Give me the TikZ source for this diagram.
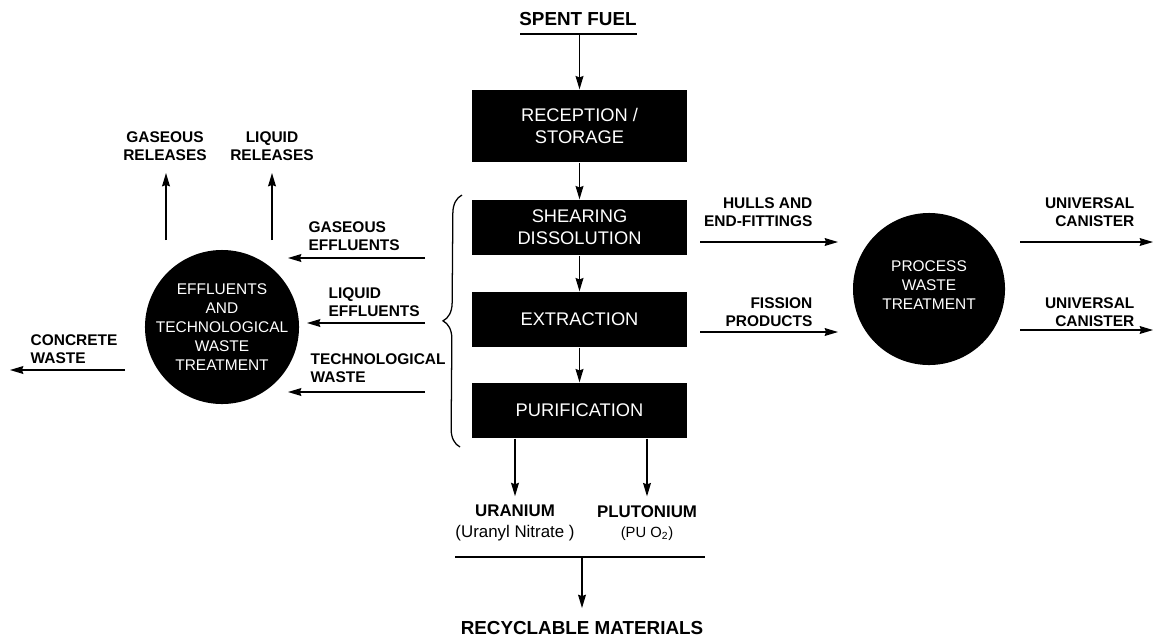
\documentclass[tikz,border=0pt]{standalone}
\usepackage{fontspec}
\setmainfont{Liberation Sans}
\usetikzlibrary{%
  arrows.meta,% wg. Stealth tips
  decorations.pathreplacing,% brace
  calc%
}

\begin{document}
\begin{tikzpicture}[
  x=0.025cm, y=-0.025cm,
  font=\fontsize{11}{13}\selectfont\bfseries,
  >={Stealth[length=9.5pt,width=5.6pt,inset=1pt]},
  line width=0.9pt,
  stage/.style={fill=black, text=white, font=\fontsize{13}{15.5}\selectfont,
    minimum width=5.375cm, minimum height=1.375cm, align=center, inner sep=0pt},
  plant/.style={circle, fill=black, inner sep=0pt},
  planttxt/.style={text=white, font=\fontsize{11}{13.5}\selectfont, align=center, inner sep=0pt},
  lbl/.style={align=center, inner sep=0pt},
  big/.style={font=\fontsize{13.4}{16}\selectfont\bfseries},
]
\useasboundingbox (0,0) rectangle (1154,639);

% main line
\node[lbl, big] (spent) at (578,19) {SPENT FUEL};
\coordinate (spentl) at (520,34);
\coordinate (spentr) at (637,34);
\draw (spentl) -- (spentr);

\node[stage, minimum height=1.8cm] (reception) at (579.5,126) {RECEPTION /\\STORAGE};
\node[stage] (shearing) at (579.5,227.5) {SHEARING\\DISSOLUTION};
\node[stage] (extraction) at (579.5,319.5) {EXTRACTION};
\node[stage] (purification) at (579.5,410.5) {PURIFICATION};

\draw[->] (spentl -| reception) -- (reception);
\draw[->] (reception) -- (shearing);
\draw[->] (shearing) -- (extraction);
\draw[->] (extraction) -- (purification);

% brace
\draw[decorate, decoration={brace, amplitude=0.45cm, aspect=0.5}]
  (460,447) -- (462,195);

% products
\node[lbl, font=\fontsize{12}{14.5}\selectfont\bfseries] (uran) at (515,523)
  {URANIUM\\\mdseries(Uranyl Nitrate )};
\node[lbl, font=\fontsize{12}{14.5}\selectfont\bfseries] (pluto) at (647,523)
  {PLUTONIUM\\\mdseries\fontsize{10.5}{14.5}\selectfont(PU O\textsubscript{2})};
\draw[->] (purification.south -| uran) -- ([yshift=6pt]uran.north);
\draw[->] (purification.south -| pluto) -- ([yshift=6pt]pluto.north);

\coordinate (mixl) at (455,557);
\coordinate (mixr) at (705,557);
\draw (mixl) -- (mixr);
\node[lbl, big] (recycle) at (582,628) {RECYCLABLE MATERIALS};
\draw[->] (mixl -| recycle) -- ([yshift=9pt]recycle.north);

% effluents side
\node[plant, minimum size=3.85cm] (effl) at (222,327) {};
\node[planttxt] (effltxt) at (effl.center)
  {EFFLUENTS\\AND\\TECHNOLOGICAL\\WASTE\\TREATMENT};

\coordinate (gass) at (425,258);
\coordinate (gast) at (288,258);
\coordinate (liqs) at (425,323);
\coordinate (liqt) at (307,323);
\coordinate (tecs) at (425,392);
\coordinate (tect) at (288,392);
\draw[->] (gass) -- (gast);
\draw[->] (liqs) -- (liqt);
\draw[->] (tecs) -- (tect);
\node[lbl, align=left, anchor=west] (gaslbl) at (308,236) {GASEOUS\\EFFLUENTS};
\node[lbl, align=left, anchor=west] (liqlbl) at (328,302) {LIQUID\\EFFLUENTS};
\node[lbl, align=left, anchor=west] (teclbl) at (310,368) {TECHNOLOGICAL\\WASTE};

\node[lbl] (gasrel) at (165,146) {GASEOUS\\RELEASES};
\node[lbl] (liqrel) at (272,146) {LIQUID\\RELEASES};
\coordinate (gasrels) at (166,240);
\coordinate (liqrels) at (272,240);
\draw[->] (gasrels) -- (gasrels |- 0,173);
\draw[->] (liqrels) -- (liqrels |- 0,173);

\node[lbl, align=left, anchor=west] (concrete) at (30,349) {CONCRETE\\WASTE};
\coordinate (concs) at (125,370);
\coordinate (conct) at (10,370);
\draw[->] (concs) -- (conct);

% process waste side
\node[plant, minimum size=3.8cm] (proc) at (929,289) {};
\node[planttxt] (proctxt) at (929,285) {PROCESS\\WASTE\\TREATMENT};

\coordinate (hulls) at (700,242);
\coordinate (hullt) at (838,242);
\coordinate (fiss) at (700,332);
\coordinate (fist) at (838,332);
\draw[->] (hulls) -- (hullt);
\draw[->] (fiss) -- (fist);
\node[lbl, align=right, anchor=east] (hulllbl) at (813,212) {HULLS AND\\END-FITTINGS};
\node[lbl, align=right, anchor=east] (fislbl) at (813,312) {FISSION\\PRODUCTS};

\coordinate (cans1) at (1020,242);
\coordinate (cant1) at (1153,242);
\coordinate (cans2) at (1020,330);
\coordinate (cant2) at (1153,330);
\draw[->] (cans1) -- (cant1);
\draw[->] (cans2) -- (cant2);
\node[lbl, align=right, anchor=east] (canlbl1) at (1135,212) {UNIVERSAL\\CANISTER};
\node[lbl, align=right, anchor=east] (canlbl2) at (1135,312) {UNIVERSAL\\CANISTER};

\end{tikzpicture}
\end{document}
